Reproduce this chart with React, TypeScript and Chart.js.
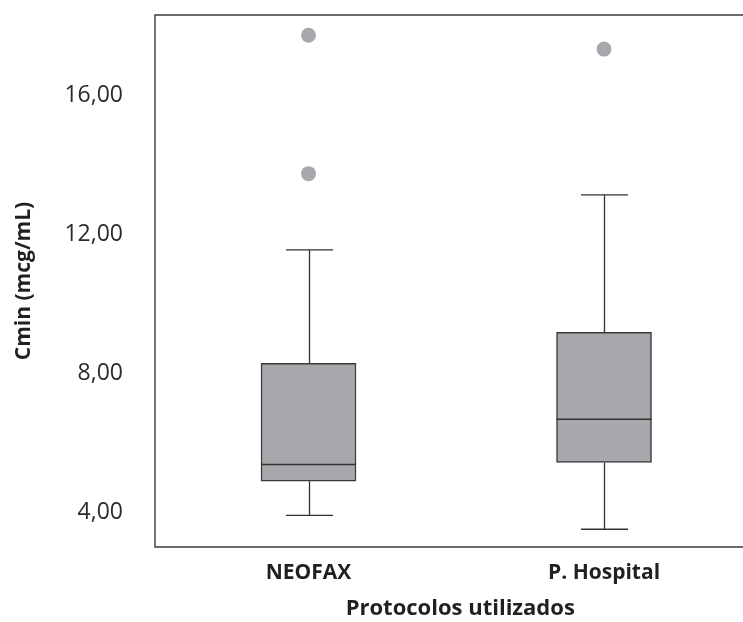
import React, { useEffect, useRef } from "react";
import { Chart, registerables } from "chart.js";

Chart.register(...registerables);

const categories = ["NEOFAX", "P. Hospital"];
const whiskerLow = [3.93, 3.53];
const q1 = [4.91, 5.45];
const median = [5.39, 6.69];
const q3 = [8.3, 9.19];
const whiskerHigh = [11.56, 13.14];
const outliers = [[17.73, 13.75], [17.33]];
const yTicks = [4, 8, 12, 16];

const yTitle = "Cmin (mcg/mL)";
const xTitle = "Protocolos utilizados";

const FONT = "'Open Sans', 'DejaVu Sans', sans-serif";
const LINE = "#3b3b3b";

const boxPlugin = {
  id: "boxWhiskers",
  beforeDatasetsDraw(chart: any) {
    const { ctx, chartArea, scales } = chart;
    const x = scales.x;
    const y = scales.y;
    ctx.save();
    ctx.strokeStyle = LINE;
    ctx.lineWidth = 1.4;
    ctx.beginPath();
    ctx.moveTo(chartArea.right, chartArea.top);
    ctx.lineTo(chartArea.left, chartArea.top);
    ctx.lineTo(chartArea.left, chartArea.bottom);
    ctx.lineTo(chartArea.right, chartArea.bottom);
    ctx.stroke();
    const capHalf = 23.5;
    ctx.lineWidth = 1.3;
    ctx.strokeStyle = "#333333";
    categories.forEach((_, i) => {
      const cx = Math.round(x.getPixelForValue(i)) + 0.5;
      const yHi = y.getPixelForValue(whiskerHigh[i]);
      const yLo = y.getPixelForValue(whiskerLow[i]);
      const yQ1 = y.getPixelForValue(q1[i]);
      const yQ3 = y.getPixelForValue(q3[i]);
      ctx.beginPath();
      ctx.moveTo(cx, yQ3);
      ctx.lineTo(cx, yHi);
      ctx.moveTo(cx - capHalf, yHi);
      ctx.lineTo(cx + capHalf, yHi);
      ctx.moveTo(cx, yQ1);
      ctx.lineTo(cx, yLo);
      ctx.moveTo(cx - capHalf, yLo);
      ctx.lineTo(cx + capHalf, yLo);
      ctx.stroke();
    });
    ctx.restore();
  },
  afterDatasetsDraw(chart: any) {
    const { ctx, scales } = chart;
    const x = scales.x;
    const y = scales.y;
    ctx.save();
    ctx.strokeStyle = "#333333";
    ctx.lineWidth = 1.5;
    const half = 47.5;
    categories.forEach((_, i) => {
      const cx = x.getPixelForValue(i);
      const ym = y.getPixelForValue(median[i]);
      ctx.beginPath();
      ctx.moveTo(cx - half, ym);
      ctx.lineTo(cx + half, ym);
      ctx.stroke();
    });
    // x axis title centred between the two groups
    const mid = (x.getPixelForValue(0) + x.getPixelForValue(1)) / 2;
    ctx.fillStyle = "#231f20";
    ctx.font = `bold 22px ${FONT}`;
    ctx.textAlign = "center";
    ctx.textBaseline = "middle";
    ctx.fillText(xTitle, mid + 4, chart.chartArea.bottom + 62);
    ctx.restore();
  },
};

const noPad = (axis: any) => {
  axis.paddingTop = 0;
  axis.paddingBottom = 0;
  axis.paddingLeft = 0;
  axis.paddingRight = 0;
};

export default function App() {
  const ref = useRef<HTMLCanvasElement | null>(null);
  useEffect(() => {
    if (!ref.current) return;
    const chart = new Chart(ref.current, {
      type: "bar",
      data: {
        datasets: [
          {
            type: "bar",
            data: categories.map((_, i) => ({ x: i, y: [q1[i], q3[i]] })) as any,
            backgroundColor: "#a7a8ab",
            borderColor: "#3a3a3a",
            borderWidth: 1.5,
            borderSkipped: false,
            barThickness: 95,
          } as any,
          {
            type: "scatter",
            data: outliers.flatMap((vals, i) => vals.map((v) => ({ x: i, y: v }))),
            backgroundColor: "#a7a8ab",
            borderWidth: 0,
            pointRadius: 7.5,
          } as any,
        ],
      },
      options: {
        animation: false,
        responsive: false,
        maintainAspectRatio: false,
        layout: { autoPadding: false, padding: { top: 15, left: 0, right: 0, bottom: 0 } },
        plugins: { legend: { display: false }, tooltip: { enabled: false } },
        scales: {
          x: {
            type: "linear",
            min: -0.5195,
            max: 1.4703,
            offset: false,
            grid: { display: false, drawTicks: false, offset: false },
            border: { display: false },
            afterBuildTicks: (axis: any) => {
              axis.ticks = categories.map((_, i) => ({ value: i }));
            },
            afterFit: (axis: any) => {
              axis.height = 75;
              noPad(axis);
            },
            ticks: {
              padding: 13,
              color: "#231f20",
              font: { family: FONT, size: 21, weight: "bold" },
              callback: (v: any) => categories[v] ?? "",
              maxRotation: 0,
              autoSkip: false,
            },
          },
          y: {
            type: "linear",
            min: 3.02,
            max: 18.31,
            grid: { display: false, drawTicks: false },
            border: { display: false },
            afterBuildTicks: (axis: any) => {
              axis.ticks = yTicks.map((v) => ({ value: v }));
            },
            afterFit: (axis: any) => {
              axis.width = 155;
              noPad(axis);
            },
            ticks: {
              padding: 32,
              color: "#2b2b2b",
              font: { family: FONT, size: 23 },
              callback: (v: any) => Number(v).toFixed(2).replace(".", ","),
            },
            title: {
              display: true,
              text: yTitle,
              color: "#231f20",
              font: { family: FONT, size: 21, weight: "bold" },
              padding: { top: 11, bottom: 0 },
            },
          },
        },
      },
      plugins: [boxPlugin],
    });
    return () => chart.destroy();
  }, []);
  return (
    <div style={{ position: "absolute", left: 0, top: 0, width: 743, height: 622, background: "#fff" }}>
      <canvas ref={ref} width={743} height={622} style={{ display: "block" }} />
    </div>
  );
}
